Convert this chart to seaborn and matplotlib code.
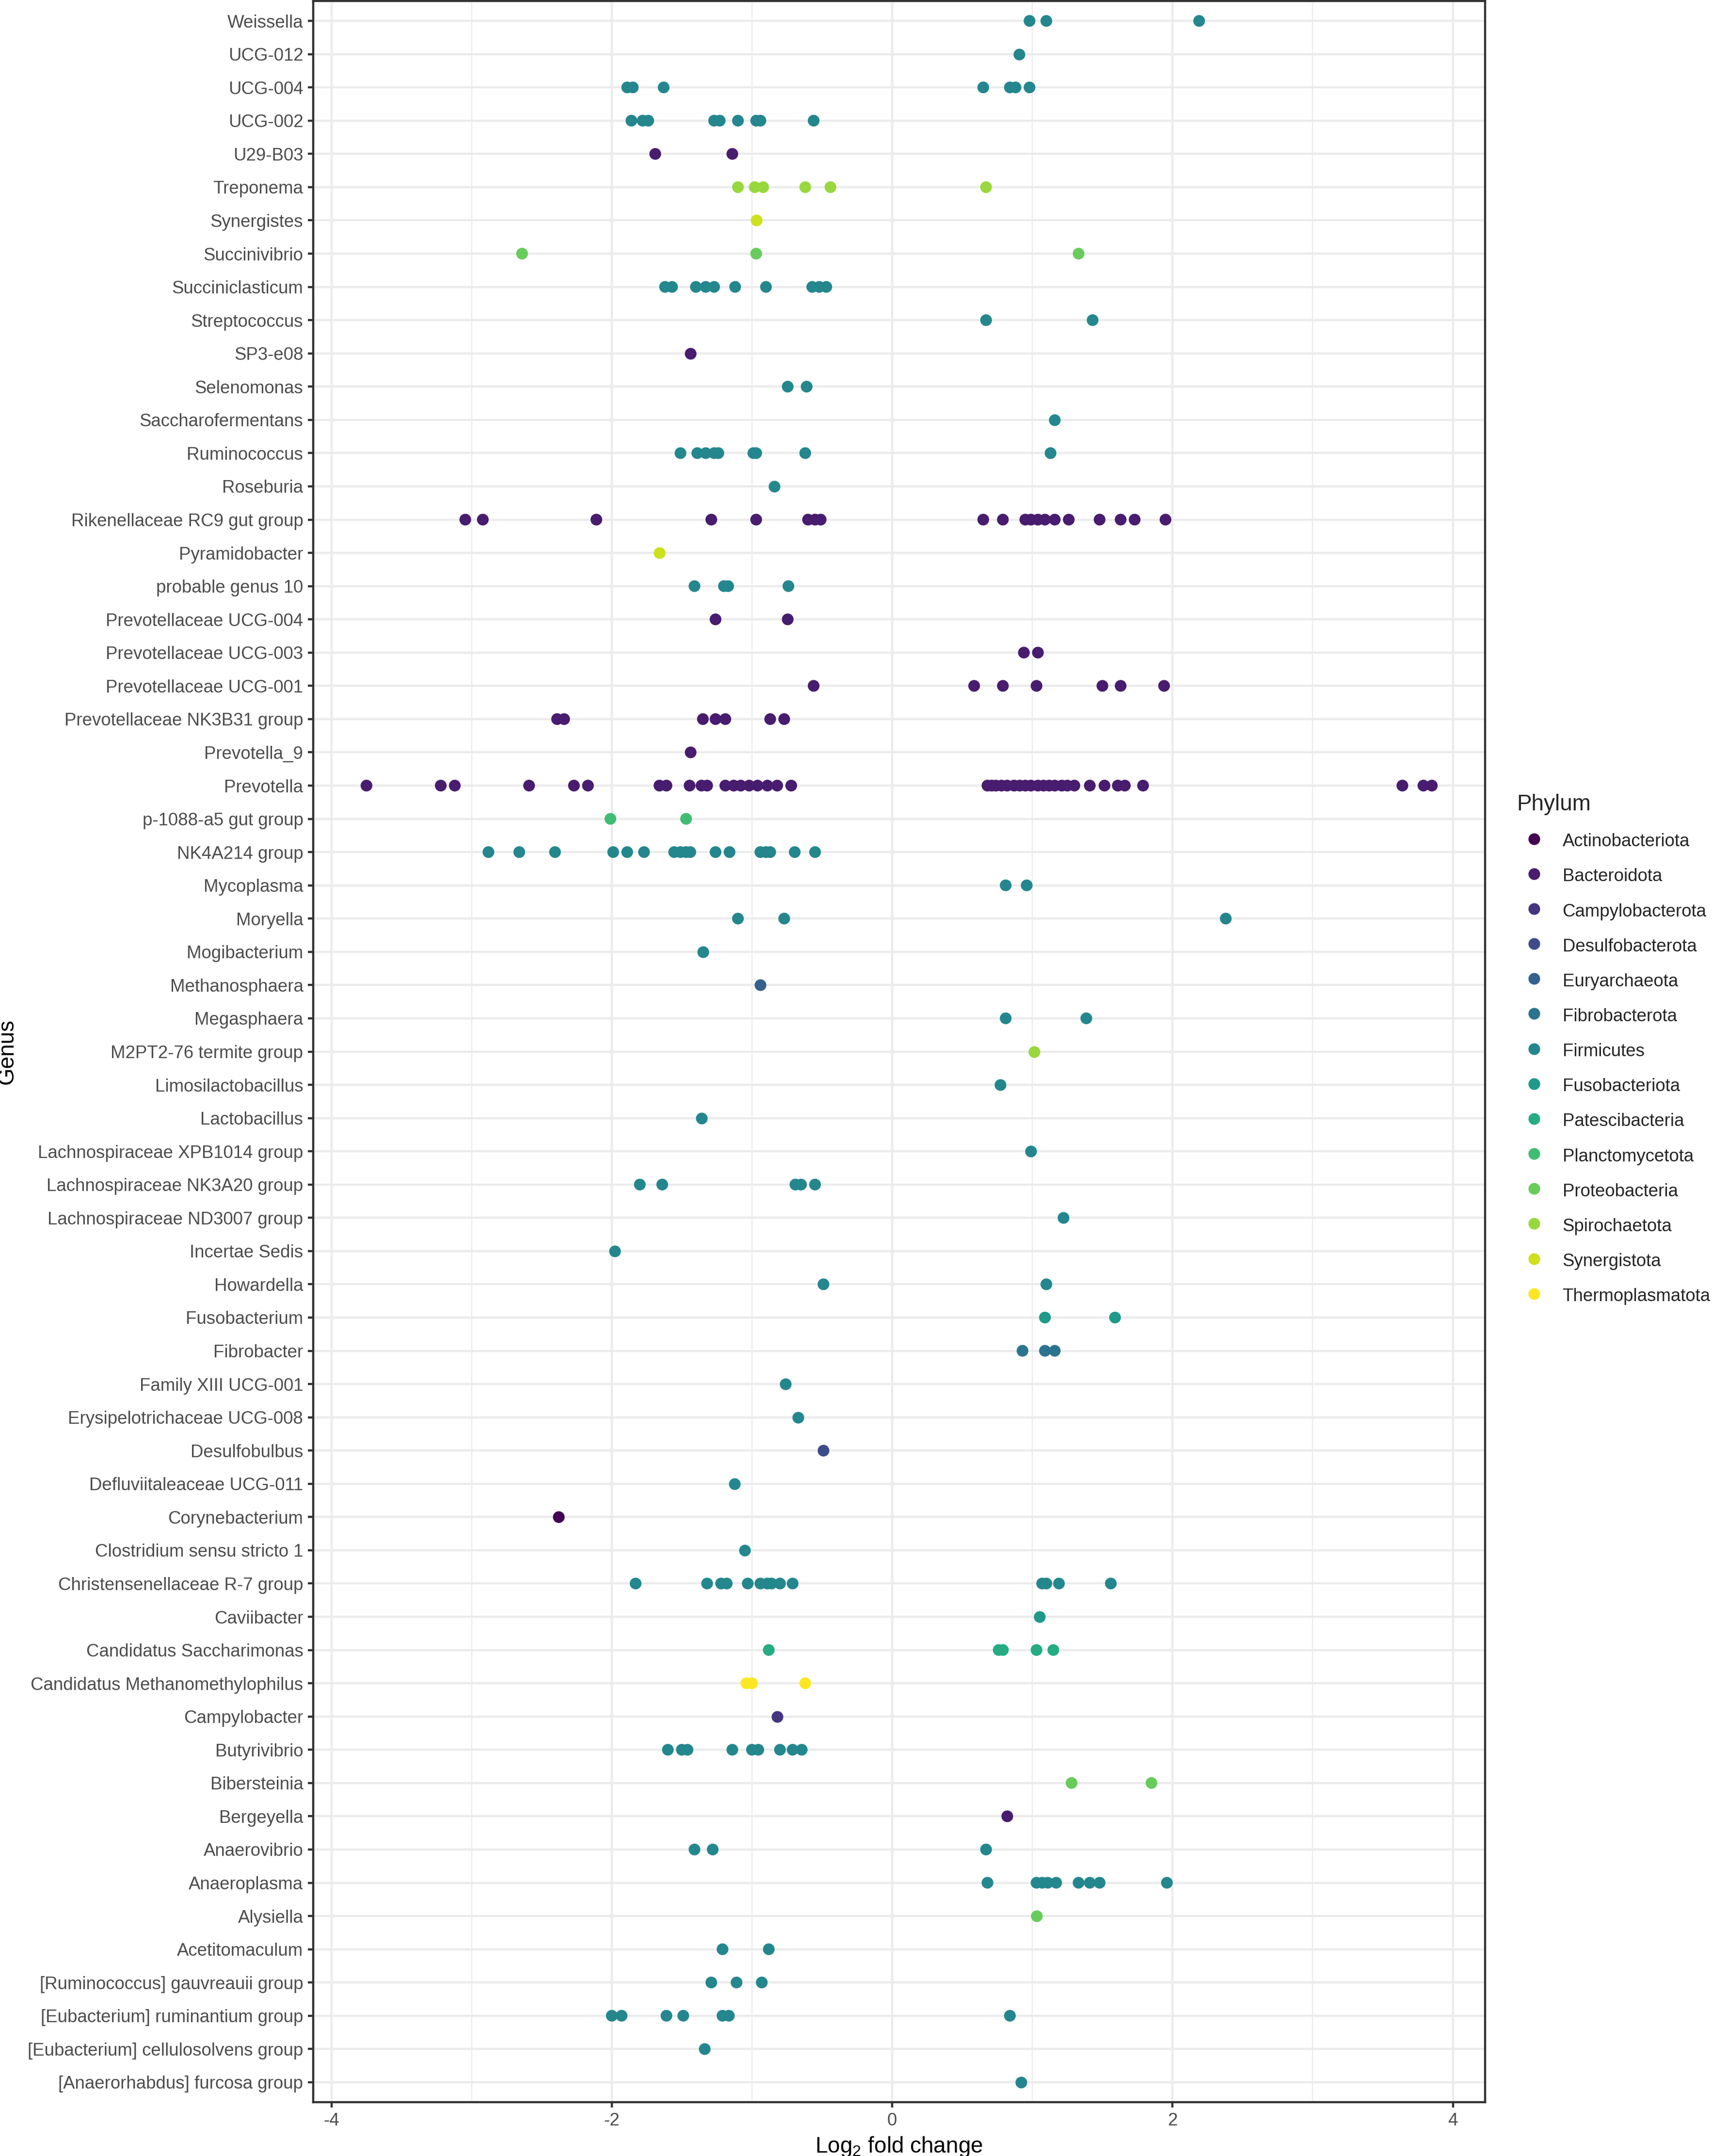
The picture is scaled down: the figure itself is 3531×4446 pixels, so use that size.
import numpy as np
import pandas as pd
import matplotlib
matplotlib.use("Agg")
import matplotlib.pyplot as plt
from matplotlib.lines import Line2D
from matplotlib.ticker import MultipleLocator
import seaborn as sns

# ---------------- data ----------------
phyla = ["Actinobacteriota", "Bacteroidota", "Campylobacterota", "Desulfobacterota",
         "Euryarchaeota", "Fibrobacterota", "Firmicutes", "Fusobacteriota",
         "Patescibacteria", "Planctomycetota", "Proteobacteria", "Spirochaetota",
         "Synergistota", "Thermoplasmatota"]

# genera listed from top of the chart to bottom
genera = [
    "Weissella", "UCG-012", "UCG-004", "UCG-002", "U29-B03", "Treponema",
    "Synergistes", "Succinivibrio", "Succiniclasticum", "Streptococcus", "SP3-e08",
    "Selenomonas", "Saccharofermentans", "Ruminococcus", "Roseburia",
    "Rikenellaceae RC9 gut group", "Pyramidobacter", "probable genus 10",
    "Prevotellaceae UCG-004", "Prevotellaceae UCG-003", "Prevotellaceae UCG-001",
    "Prevotellaceae NK3B31 group", "Prevotella_9", "Prevotella", "p-1088-a5 gut group",
    "NK4A214 group", "Mycoplasma", "Moryella", "Mogibacterium", "Methanosphaera",
    "Megasphaera", "M2PT2-76 termite group", "Limosilactobacillus", "Lactobacillus",
    "Lachnospiraceae XPB1014 group", "Lachnospiraceae NK3A20 group",
    "Lachnospiraceae ND3007 group", "Incertae Sedis", "Howardella", "Fusobacterium",
    "Fibrobacter", "Family XIII UCG-001", "Erysipelotrichaceae UCG-008",
    "Desulfobulbus", "Defluviitaleaceae UCG-011", "Corynebacterium",
    "Clostridium sensu stricto 1", "Christensenellaceae R-7 group", "Caviibacter",
    "Candidatus Saccharimonas", "Candidatus Methanomethylophilus", "Campylobacter",
    "Butyrivibrio", "Bibersteinia", "Bergeyella", "Anaerovibrio", "Anaeroplasma",
    "Alysiella", "Acetitomaculum", "[Ruminococcus] gauvreauii group",
    "[Eubacterium] ruminantium group", "[Eubacterium] cellulosolvens group",
    "[Anaerorhabdus] furcosa group",
]

genus_phylum = [
    "Firmicutes", "Firmicutes", "Firmicutes", "Firmicutes", "Bacteroidota", "Spirochaetota",
    "Synergistota", "Proteobacteria", "Firmicutes", "Firmicutes", "Bacteroidota",
    "Firmicutes", "Firmicutes", "Firmicutes", "Firmicutes",
    "Bacteroidota", "Synergistota", "Firmicutes",
    "Bacteroidota", "Bacteroidota", "Bacteroidota",
    "Bacteroidota", "Bacteroidota", "Bacteroidota", "Planctomycetota",
    "Firmicutes", "Firmicutes", "Firmicutes", "Firmicutes", "Euryarchaeota",
    "Firmicutes", "Spirochaetota", "Firmicutes", "Firmicutes",
    "Firmicutes", "Firmicutes",
    "Firmicutes", "Firmicutes", "Firmicutes", "Fusobacteriota",
    "Fibrobacterota", "Firmicutes", "Firmicutes",
    "Desulfobacterota", "Firmicutes", "Actinobacteriota",
    "Firmicutes", "Firmicutes", "Fusobacteriota",
    "Patescibacteria", "Thermoplasmatota", "Campylobacterota",
    "Firmicutes", "Proteobacteria", "Bacteroidota", "Firmicutes", "Firmicutes",
    "Proteobacteria", "Firmicutes", "Firmicutes",
    "Firmicutes", "Firmicutes",
    "Firmicutes",
]

lfc_values = [
    [0.98, 1.10, 2.19],                                                     # Weissella
    [0.905],                                                                # UCG-012
    [-1.89, -1.85, -1.63, 0.65, 0.84, 0.88, 0.98],                          # UCG-004
    [-1.86, -1.78, -1.74, -1.27, -1.23, -1.10, -0.97, -0.94, -0.56],        # UCG-002
    [-1.69, -1.14],                                                         # U29-B03
    [-1.10, -0.98, -0.92, -0.62, -0.44, 0.67],                              # Treponema
    [-0.97],                                                                # Synergistes
    [-2.64, -0.97, 1.33],                                                   # Succinivibrio
    [-1.62, -1.57, -1.40, -1.33, -1.27, -1.12, -0.90, -0.57, -0.52, -0.47], # Succiniclasticum
    [0.67, 1.43],                                                           # Streptococcus
    [-1.44],                                                                # SP3-e08
    [-0.745, -0.61],                                                        # Selenomonas
    [1.16],                                                                 # Saccharofermentans
    [-1.51, -1.39, -1.33, -1.27, -1.24, -0.99, -0.97, -0.62, 1.13],         # Ruminococcus
    [-0.84],                                                                # Roseburia
    [-3.045, -2.92, -2.11, -1.29, -0.97, -0.60, -0.55, -0.51, 0.65, 0.79,
     0.95, 0.99, 1.04, 1.09, 1.16, 1.26, 1.48, 1.63, 1.73, 1.95],           # Rikenellaceae RC9
    [-1.66],                                                                # Pyramidobacter
    [-1.41, -1.20, -1.17, -0.74],                                           # probable genus 10
    [-1.26, -0.745],                                                        # Prevotellaceae UCG-004
    [0.94, 1.04],                                                           # Prevotellaceae UCG-003
    [-0.56, 0.585, 0.79, 1.03, 1.50, 1.63, 1.94],                           # Prevotellaceae UCG-001
    [-2.39, -2.34, -1.35, -1.26, -1.19, -0.87, -0.77],                      # Prevotellaceae NK3B31
    [-1.44],                                                                # Prevotella_9
    [-3.75, -3.22, -3.12, -2.59, -2.27, -2.17, -1.66, -1.61, -1.445, -1.36,
     -1.32, -1.19, -1.13, -1.08, -1.02, -0.96, -0.89, -0.82, -0.72,
     0.68, 0.71, 0.74, 0.78, 0.82, 0.87, 0.91, 0.95, 0.99, 1.04, 1.08, 1.12,
     1.16, 1.21, 1.25, 1.30, 1.41, 1.515, 1.61, 1.66, 1.79, 3.64, 3.79, 3.85],  # Prevotella
    [-2.01, -1.47],                                                         # p-1088-a5
    [-2.88, -2.66, -2.405, -1.99, -1.89, -1.77, -1.555, -1.51, -1.47, -1.44,
     -1.26, -1.16, -0.94, -0.90, -0.87, -0.695, -0.55],                     # NK4A214
    [0.81, 0.96],                                                           # Mycoplasma
    [-1.10, -0.77, 2.38],                                                   # Moryella
    [-1.35],                                                                # Mogibacterium
    [-0.94],                                                                # Methanosphaera
    [0.81, 1.385],                                                          # Megasphaera
    [1.015],                                                                # M2PT2-76
    [0.77],                                                                 # Limosilactobacillus
    [-1.36],                                                                # Lactobacillus
    [0.99],                                                                 # XPB1014
    [-1.80, -1.64, -0.69, -0.65, -0.55],                                    # NK3A20
    [1.22],                                                                 # ND3007
    [-1.98],                                                                # Incertae Sedis
    [-0.49, 1.10],                                                          # Howardella
    [1.09, 1.59],                                                           # Fusobacterium
    [0.93, 1.09, 1.16],                                                     # Fibrobacter
    [-0.76],                                                                # Family XIII UCG-001
    [-0.67],                                                                # Erysipelotrichaceae
    [-0.49],                                                                # Desulfobulbus
    [-1.125],                                                               # Defluviitaleaceae
    [-2.38],                                                                # Corynebacterium
    [-1.05],                                                                # Clostridium ss 1
    [-1.83, -1.32, -1.22, -1.18, -1.03, -0.94, -0.89, -0.86, -0.80, -0.71,
     1.07, 1.10, 1.19, 1.56],                                               # Christensenellaceae
    [1.05],                                                                 # Caviibacter
    [-0.88, 0.76, 0.79, 1.03, 1.15],                                        # Saccharimonas
    [-1.04, -1.00, -0.62],                                                  # Methanomethylophilus
    [-0.82],                                                                # Campylobacter
    [-1.60, -1.50, -1.46, -1.14, -1.00, -0.955, -0.80, -0.71, -0.645],      # Butyrivibrio
    [1.28, 1.85],                                                           # Bibersteinia
    [0.82],                                                                 # Bergeyella
    [-1.41, -1.28, 0.67],                                                   # Anaerovibrio
    [0.68, 1.03, 1.07, 1.11, 1.17, 1.33, 1.41, 1.48, 1.96],                 # Anaeroplasma
    [1.03],                                                                 # Alysiella
    [-1.21, -0.88],                                                         # Acetitomaculum
    [-1.29, -1.11, -0.93],                                                  # [Ruminococcus] gauvreauii
    [-2.00, -1.93, -1.61, -1.49, -1.21, -1.165, 0.84],                      # [Eubacterium] ruminantium
    [-1.34],                                                                # [Eubacterium] cellulosolvens
    [0.92],                                                                 # [Anaerorhabdus] furcosa
]

x_major_ticks = [-4, -2, 0, 2, 4]
x_tick_labels = ["-4", "-2", "0", "2", "4"]

rows = []
for g, p, vals in zip(genera, genus_phylum, lfc_values):
    for v in vals:
        rows.append((g, p, v))
df = pd.DataFrame(rows, columns=["Genus", "Phylum", "lfc"])

# ---------------- style ----------------
sns.set_theme(style="white")
plt.rcParams["font.family"] = ["Liberation Sans", "DejaVu Sans"]
plt.rcParams["axes.unicode_minus"] = False
plt.rcParams["mathtext.fontset"] = "custom"
plt.rcParams["mathtext.rm"] = "Liberation Sans"
plt.rcParams["mathtext.it"] = "Liberation Sans:italic"
plt.rcParams["mathtext.bf"] = "Liberation Sans:bold"

cmap = matplotlib.colormaps["viridis"]
colors = [cmap(t) for t in np.linspace(0, 1, len(phyla))]
palette = dict(zip(phyla, colors))

W, H = 3531, 4446
fig = plt.figure(figsize=(W / 300, H / 300), dpi=300)
left, right = 646 / W, 3063 / W
bottom, top = 1 - 4335 / H, 1 - 2 / H
ax = fig.add_axes([left, bottom, right - left, top - bottom])

sns.stripplot(data=df, x="lfc", y="Genus", hue="Phylum", order=genera,
              hue_order=phyla, palette=palette, jitter=False, size=5.8,
              linewidth=0, orient="h", legend=False, ax=ax, zorder=3)

lo, hi = df["lfc"].min(), df["lfc"].max()
pad = 0.05 * (hi - lo)
ax.set_xlim(lo - pad, hi + pad)
ax.set_ylim(len(genera) - 1 + 0.6, -0.6)

ax.set_xticks(x_major_ticks)
ax.set_xticklabels(x_tick_labels)
ax.xaxis.set_minor_locator(MultipleLocator(1))

grid_col = "#EBEBEB"
ax.set_axisbelow(True)
ax.grid(True, which="major", axis="both", color=grid_col, linewidth=1.07)
ax.grid(True, which="minor", axis="x", color=grid_col, linewidth=0.53)

ax.tick_params(axis="both", which="major", labelsize=8.8, labelcolor="#4D4D4D",
               color="#333333", length=2.75, width=1.07, pad=2.2,
               bottom=True, left=True)
ax.tick_params(axis="both", which="minor", length=0)

for s in ax.spines.values():
    s.set_visible(True)
    s.set_color("#333333")
    s.set_linewidth(1.07)

ax.set_xlabel(r"Log$_2$ fold change", fontsize=11, color="black", labelpad=3)
ax.set_ylabel("Genus", fontsize=11, color="black", labelpad=5)

handles = [Line2D([], [], marker="o", linestyle="none", markersize=5.8,
                  markerfacecolor=palette[p], markeredgewidth=0) for p in phyla]
leg = fig.legend(handles, phyla, title="Phylum", loc="upper left",
                 bbox_to_anchor=(3128 / W, 1 - 1637 / H), frameon=False,
                 fontsize=8.8, title_fontsize=11, borderpad=0, borderaxespad=0,
                 handlelength=1.96, handleheight=1.2, handletextpad=0.62,
                 labelspacing=0.90, alignment="left")

fig.savefig("out.png", dpi=300)
